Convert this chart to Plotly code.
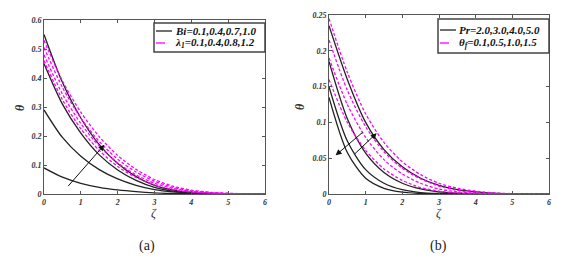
import plotly.graph_objects as go

# ---------------- data ----------------
zeta = [0, 0.5, 1, 1.5, 2, 2.5, 3, 3.5, 4, 4.5, 5, 5.5, 6]

# panel (a): Bi curves (solid black) and lambda_1 curves (dashed magenta)
bi_curves = [
    [0.090, 0.058, 0.037, 0.023, 0.014, 0.008, 0.004, 0.002, 0.001, 0.0005, 0.0002, 0.0001, 0.0],
    [0.290, 0.195, 0.130, 0.084, 0.052, 0.030, 0.015, 0.007, 0.003, 0.001, 0.0004, 0.0001, 0.0],
    [0.450, 0.310, 0.210, 0.135, 0.083, 0.047, 0.023, 0.010, 0.004, 0.0015, 0.0005, 0.0001, 0.0],
    [0.550, 0.385, 0.262, 0.170, 0.105, 0.060, 0.030, 0.013, 0.005, 0.002, 0.0006, 0.0001, 0.0],
]
lam_curves = [
    [0.460, 0.325, 0.225, 0.150, 0.095, 0.057, 0.031, 0.015, 0.007, 0.003, 0.001, 0.0003, 0.0],
    [0.480, 0.345, 0.243, 0.165, 0.107, 0.066, 0.037, 0.019, 0.009, 0.004, 0.0015, 0.0005, 0.0],
    [0.505, 0.368, 0.262, 0.181, 0.120, 0.076, 0.044, 0.023, 0.011, 0.005, 0.002, 0.0006, 0.0],
    [0.530, 0.390, 0.282, 0.198, 0.133, 0.085, 0.050, 0.027, 0.013, 0.006, 0.0025, 0.0008, 0.0],
]

# panel (b): Pr curves (solid black) and theta_f curves (dashed magenta)
pr_curves = [
    [0.235, 0.160, 0.100, 0.062, 0.038, 0.022, 0.012, 0.006, 0.003, 0.0012, 0.0004, 0.0001, 0.0],
    [0.185, 0.105, 0.057, 0.030, 0.015, 0.007, 0.003, 0.0012, 0.0004, 0.0001, 0.0, 0.0, 0.0],
    [0.150, 0.074, 0.034, 0.015, 0.006, 0.002, 0.0007, 0.0002, 0.0, 0.0, 0.0, 0.0, 0.0],
    [0.135, 0.058, 0.022, 0.008, 0.0025, 0.0007, 0.0002, 0.0, 0.0, 0.0, 0.0, 0.0, 0.0],
]
thf_curves = [
    [0.160, 0.100, 0.061, 0.035, 0.019, 0.009, 0.004, 0.0015, 0.0005, 0.0002, 0.0, 0.0, 0.0],
    [0.190, 0.125, 0.079, 0.048, 0.028, 0.015, 0.007, 0.003, 0.001, 0.0004, 0.0001, 0.0, 0.0],
    [0.215, 0.145, 0.094, 0.059, 0.036, 0.021, 0.011, 0.005, 0.002, 0.0008, 0.0003, 0.0, 0.0],
    [0.245, 0.170, 0.112, 0.072, 0.045, 0.027, 0.015, 0.008, 0.004, 0.0015, 0.0005, 0.0001, 0.0],
]

legend_a = ["Bi=0.1,0.4,0.7,1.0", "λ<sub>1</sub>=0.1,0.4,0.8,1.2"]
legend_b = ["Pr=2.0,3.0,4.0,5.0", "θ<sub>f</sub>=0.1,0.5,1.0,1.5"]

x_ticks = [0, 1, 2, 3, 4, 5, 6]
y_ticks_a = [0, 0.1, 0.2, 0.3, 0.4, 0.5, 0.6]
y_ticks_a_text = ["0", "0.1", "0.2", "0.3", "0.4", "0.5", "0.6"]
y_ticks_b = [0, 0.05, 0.1, 0.15, 0.2, 0.25]
y_ticks_b_text = ["0", "0.05", "0.1", "0.15", "0.2", "0.25"]

# arrows: (tail, head) in data units
arrow_a = [(0.62, 0.022), (1.64, 0.17)]
arrow_b1 = [(0.96, 0.088), (0.18, 0.054)]   # Pr increases -> down-left
arrow_b2 = [(0.66, 0.054), (1.30, 0.085)]   # theta_f increases -> up-right

# ---------------- figure ----------------
SERIF = "Liberation Serif"
BLACK = "#222222"
MAG = "#ff00ff"
DASH = "3px,2px"

# page has a default 8px body margin: figure sized to fit the window
OFF = 8
W, H = 567 - OFF, 263 - OFF
def px(x):
    return (x - OFF) / W
def py(y):
    return 1 - (y - OFF) / H

fig = go.Figure()

def add_group(curves, xa, ya, color, dash, name):
    for c in curves:
        fig.add_trace(go.Scatter(
            x=zeta, y=c, mode="lines", xaxis=xa, yaxis=ya, name=name, showlegend=False,
            line=dict(color=color, width=1.3, dash=dash, shape="spline", smoothing=0.8),
        ))

add_group(bi_curves, "x", "y", BLACK, "solid", legend_a[0])
add_group(lam_curves, "x", "y", MAG, DASH, legend_a[1])
add_group(pr_curves, "x2", "y2", BLACK, "solid", legend_b[0])
add_group(thf_curves, "x2", "y2", MAG, DASH, legend_b[1])

ax_common = dict(
    showline=True, linecolor="#555555", linewidth=1, mirror="ticks", automargin=False,
    ticks="inside", ticklen=3, tickcolor="#555555", showgrid=False, zeroline=False,
    tickfont=dict(family=SERIF, size=8, color="#333333", weight="bold", style="italic"),
)

fig.update_layout(
    width=W, height=H, margin=dict(l=0, r=0, t=0, b=0, autoexpand=False),
    paper_bgcolor="white", plot_bgcolor="white", showlegend=False,
    xaxis=dict(domain=[px(44), px(265)], anchor="y", range=[0, 6], tickvals=x_ticks, **ax_common),
    yaxis=dict(domain=[py(194), py(20)], anchor="x", range=[0, 0.6],
               tickvals=y_ticks_a, ticktext=y_ticks_a_text, **ax_common),
    xaxis2=dict(domain=[px(329), px(549)], anchor="y2", range=[0, 6], tickvals=x_ticks, **ax_common),
    yaxis2=dict(domain=[py(194), py(15)], anchor="x2", range=[0, 0.25],
                tickvals=y_ticks_b, ticktext=y_ticks_b_text, **ax_common),
)

annos = []
shapes = []

def arrow(pts, xr, yr):
    (x0, y0), (x1, y1) = pts
    annos.append(dict(x=x1, y=y1, ax=x0, ay=y0, xref=xr, yref=yr, axref=xr, ayref=yr,
                      showarrow=True, arrowhead=2, arrowsize=1.2, arrowwidth=1,
                      arrowcolor="#111111", text=""))

arrow(arrow_a, "x", "y")
arrow(arrow_b1, "x2", "y2")
arrow(arrow_b2, "x2", "y2")

# legends drawn as boxed keys
def legend_box(x0, x1, y0, y1, rows, labels):
    shapes.append(dict(type="rect", xref="paper", yref="paper", x0=px(x0), x1=px(x1),
                       y0=py(y1), y1=py(y0), line=dict(color="#444444", width=1.5),
                       fillcolor="white", layer="above"))
    styles = [(BLACK, "solid"), (MAG, "dash")]
    for ry, lab, (col, dsh) in zip(rows, labels, styles):
        shapes.append(dict(type="line", xref="paper", yref="paper", x0=px(x0 + 2), x1=px(x0 + 18),
                           y0=py(ry), y1=py(ry), line=dict(color=col, width=1.3, dash=dsh),
                           layer="above"))
        annos.append(dict(x=px(x0 + 19), y=py(ry), xref="paper", yref="paper",
                          text="<b><i>" + lab + "</i></b>", xanchor="left", yanchor="middle",
                          showarrow=False, font=dict(family=SERIF, size=11, color="#111111")))

legend_box(154, 265, 23, 52, [31, 43], legend_a)
legend_box(438, 549, 19, 53, [30, 43], legend_b)

def label(cx, cy, text, size, angle=0, color="#333333"):
    annos.append(dict(x=px(cx), y=py(cy), xref="paper", yref="paper", text=text,
                      xanchor="center", yanchor="middle", textangle=angle,
                      showarrow=False, font=dict(family=SERIF, size=size, color=color)))

for cx in (154, 439):
    label(cx, 213, "<i>ζ</i>", 12)
for cx in (20, 300):
    label(cx, 107, "<b><i>θ</i></b>", 12, angle=-90)
label(147, 246, "(a)", 14, color="#222222")
label(438, 246, "(b)", 14, color="#222222")

fig.update_layout(annotations=annos, shapes=shapes)
fig.write_html("out.html")
